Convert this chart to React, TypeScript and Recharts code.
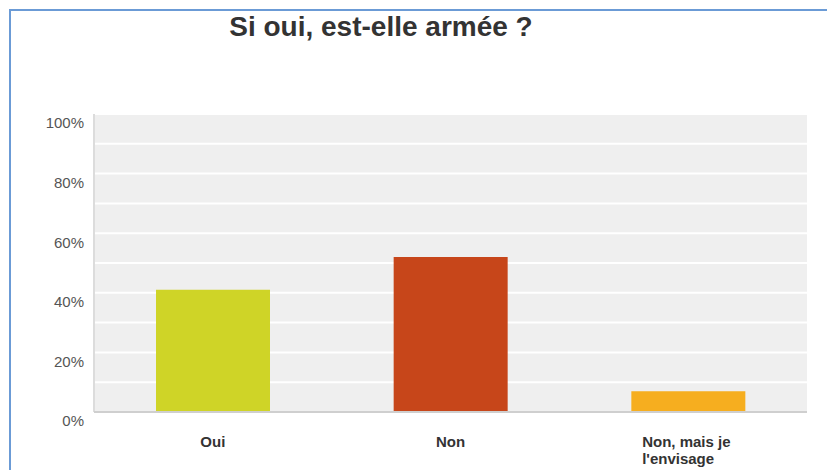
import React from 'react';
import { BarChart, Bar, XAxis, YAxis, CartesianGrid, Cell } from 'recharts';

const categories = ['Oui', 'Non', 'Non, mais je\nl\'envisage'];
const values = [41, 52, 7];
const colors = ['#cfd427', '#c7461a', '#f6ae1f'];
const yTicks = [0, 20, 40, 60, 80, 100];
const gridValues = [10, 20, 30, 40, 50, 60, 70, 80, 90, 100];

const data = categories.map((c, i) => ({ name: c, value: values[i] }));

const YTick = (props: any) => {
  const { x, y, payload } = props;
  return (
    <text x={x - 2} y={y + 9} dy="0.355em" textAnchor="end" fontSize={15} fill="#555" fontFamily="Liberation Sans, Arial, sans-serif">
      {payload.value}%
    </text>
  );
};

const XTick = (props: any) => {
  const { x, y, payload } = props;
  const lines = String(payload.value).split('\n');
  const multi = lines.length > 1;
  const tx = multi ? x - 46 : x;
  return (
    <text
      x={tx}
      y={y + 27}
      textAnchor={multi ? 'start' : 'middle'}
      fontSize={15}
      fontWeight="bold"
      fill="#333"
      fontFamily="Liberation Sans, Arial, sans-serif"
    >
      {lines.map((l, i) => (
        <tspan key={i} x={tx} dy={i === 0 ? 0 : 17}>
          {l}
        </tspan>
      ))}
    </text>
  );
};

export default function App() {
  return (
    <div style={{ position: 'absolute', left: 0, top: 0, width: 827, height: 470, background: '#fff', overflow: 'hidden' }}>
      <div
        style={{
          position: 'absolute',
          left: 9,
          top: 9,
          width: 830,
          height: 470,
          borderLeft: '2px solid #6b9bd6',
          borderTop: '2px solid #6b9bd6',
        }}
      />
      <div
        style={{
          position: 'absolute',
          left: 0,
          width: 762,
          top: 13,
          lineHeight: '28px',
          textAlign: 'center',
          fontFamily: 'Liberation Sans, Arial, sans-serif',
          fontWeight: 'bold',
          fontSize: 28,
          color: '#333',
        }}
      >
        Si oui, est-elle armée ?
      </div>
      <div style={{ position: 'absolute', left: 0, top: 0 }}>
        <BarChart width={827} height={470} data={data} margin={{ top: 114, right: 20, bottom: 28, left: 34 }}>
          <CartesianGrid
            fill="#efefef"
            stroke="#ffffff"
            strokeWidth={2}
            vertical={false}
            horizontalValues={gridValues}
          />
          <YAxis
            width={60}
            domain={[0, 100]}
            ticks={yTicks}
            tick={<YTick />}
            axisLine={{ stroke: '#dcdcdc', strokeWidth: 2 }}
            tickLine={false}
          />
          <XAxis
            dataKey="name"
            height={30}
            tick={<XTick />}
            interval={0}
            axisLine={{ stroke: '#cfcfcf', strokeWidth: 2 }}
            tickLine={false}
          />
          <Bar dataKey="value" barSize={114} isAnimationActive={false}>
            {data.map((d, i) => (
              <Cell key={d.name} fill={colors[i]} />
            ))}
          </Bar>
        </BarChart>
      </div>
    </div>
  );
}
